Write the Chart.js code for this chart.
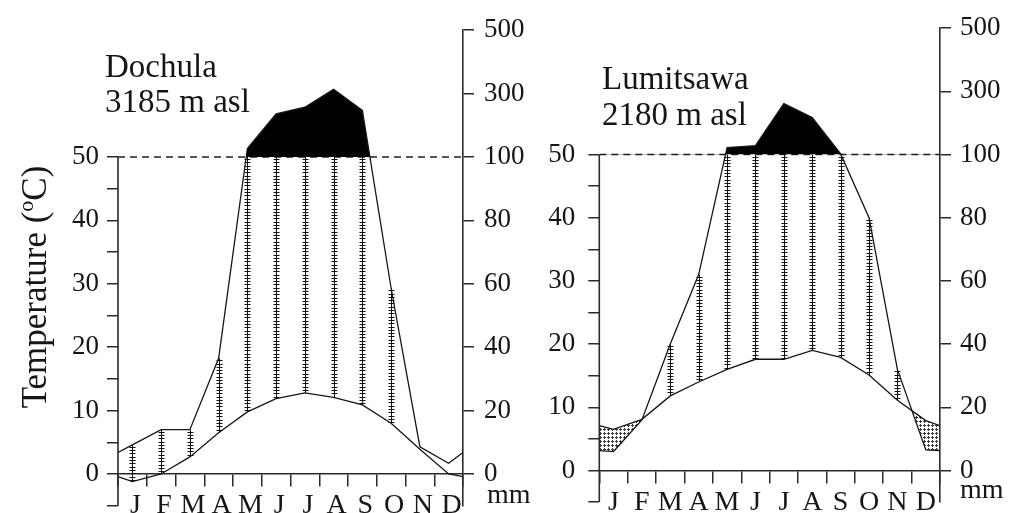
<!DOCTYPE html>
<html>
<head>
<meta charset="utf-8">
<script src="https://cdn.jsdelivr.net/npm/chart.js@4.4.1/dist/chart.umd.min.js"></script>
<style>
  html, body { margin: 0; padding: 0; background: #fff; overflow: hidden; }
  #wrap { position: relative; width: 1011px; height: 513px; }
  canvas { position: absolute; top: 0; }
  #dochula { left: 0; }
  #lumitsawa { left: 535px; }
</style>
</head>
<body>
<div id="wrap">
  <canvas id="dochula" width="535" height="513"></canvas>
  <canvas id="lumitsawa" width="476" height="513"></canvas>
</div>
<script>
// Month initials along the bottom axis
const months = ['J', 'F', 'M', 'A', 'M', 'J', 'J', 'A', 'S', 'O', 'N', 'D'];

// Dochula, 3185 m asl: mean monthly temperature (°C) and precipitation (mm)
const dochulaTemp   = [-1.2, 0.0, 2.7, 6.5, 9.8, 11.9, 12.8, 12.1, 10.9, 8.0, 3.9, 0.0];
const dochulaPrecip = [9.2, 14, 14, 36.5, 127, 236, 257, 314, 247, 58.6, 8.6, 3.4];
// values where December runs into January at both frame edges
const dochulaEdgeTemp = -0.4;
const dochulaEdgePrecip = 6.8;

// Lumitsawa, 2180 m asl
const lumitsawaTemp   = [6.5, 8.1, 11.8, 14.0, 16.0, 17.6, 17.6, 19.0, 17.9, 15.1, 11.1, 7.9];
const lumitsawaPrecip = [6, 16, 40, 62, 122, 128, 261, 217, 102, 80, 32, 6.5];
const lumitsawaEdgeTemp = 7.1;
const lumitsawaEdgePrecip = 6.3;

// Axis ticks
const tempTicks = [-5, 0, 5, 10, 15, 20, 25, 30, 35, 40, 45, 50];
const tempLabels = [0, 10, 20, 30, 40, 50];
const precipTicks = [0, 10, 20, 30, 40, 50, 60, 70, 80, 90, 100, 200, 300, 400, 500];
const precipLabels = [0, 20, 40, 60, 80, 100, 300, 500];

const serif = "'Liberation Serif', 'Times New Roman', serif";
const ink = '#161616';

// Walter–Lieth precipitation scale: 20 mm per 10 °C up to 100 mm, 100 mm per 5 °C above
function toScale(mm) { return mm <= 100 ? mm / 2 : 50 + (mm - 100) / 20; }
function fromScale(v) { return v <= 50 ? Math.round(v * 2) : Math.round(100 + (v - 50) * 20); }

// Stippled (small crosses) fill for the dry season
function crossPattern() {
  const c = document.createElement('canvas');
  c.width = 4; c.height = 4;
  const g = c.getContext('2d');
  g.fillStyle = '#3a3a3a';
  g.fillRect(1, 1, 1, 1);
  g.fillRect(0, 1, 1, 1); g.fillRect(2, 1, 1, 1);
  g.fillRect(1, 0, 1, 1); g.fillRect(1, 2, 1, 1);
  return g.createPattern(c, 'repeat');
}

const climatePlugin = {
  id: 'climate',
  // humid-season ladders between temperature and precipitation
  beforeDatasetsDraw(chart, args, o) {
    const ctx = chart.ctx, xs = chart.scales.x, ys = chart.scales.y;
    ctx.save();
    ctx.strokeStyle = '#111';
    ctx.lineWidth = 1;
    o.temp.forEach((t, i) => {
      const top = Math.min(toScale(o.precip[i]), 50);
      if (top - t < 2) return;
      const x = Math.round(xs.getPixelForValue(i + 0.5)) + 0.5;
      const y0 = ys.getPixelForValue(t), y1 = ys.getPixelForValue(top);
      ctx.beginPath();
      ctx.moveTo(x, y0); ctx.lineTo(x, y1);
      ctx.stroke();
      ctx.beginPath();
      for (let y = y1 + 2; y < y0 - 1; y += 3.3) {
        const yy = Math.round(y) + 0.5;
        ctx.moveTo(x - 3, yy); ctx.lineTo(x + 3, yy);
      }
      ctx.stroke();
    });
    ctx.restore();
  },
  afterDraw(chart, args, o) {
    const ctx = chart.ctx, ys = chart.scales.y, area = chart.chartArea;
    ctx.save();
    // temperature axis line, -5 to 50
    ctx.strokeStyle = '#2a2a2a';
    ctx.lineWidth = 1.6;
    ctx.beginPath();
    ctx.moveTo(area.left, ys.getPixelForValue(-5));
    ctx.lineTo(area.left, ys.getPixelForValue(50));
    ctx.stroke();

    ctx.fillStyle = ink;
    ctx.textBaseline = 'alphabetic';
    ctx.textAlign = 'left';
    // station name and altitude
    ctx.font = '33px ' + serif;
    o.station.forEach((line, k) => ctx.fillText(line, o.stationX, o.stationY + k * o.stationGap));
    // unit of the precipitation axis
    ctx.font = '28px ' + serif;
    ctx.fillText('mm', area.right + o.mmDx, ys.getPixelForValue(0) + o.mmDy);

    if (o.yTitle) {
      const big = '35px ' + serif, small = '22px ' + serif;
      const parts = [['Temperature (', big, 0], ['o', small, -13], ['C)', big, 0]];
      let w = 0;
      parts.forEach(p => { ctx.font = p[1]; w += ctx.measureText(p[0]).width; });
      ctx.translate(o.yTitle.x, o.yTitle.y);
      ctx.rotate(-Math.PI / 2);
      let x = -w / 2;
      parts.forEach(p => { ctx.font = p[1]; ctx.fillText(p[0], x, p[2]); x += ctx.measureText(p[0]).width; });
    }
    ctx.restore();
  }
};

function linePoints(values, edge, f) {
  return [{ x: 0, y: f(edge) }]
    .concat(values.map((v, i) => ({ x: i + 0.5, y: f(v) })))
    .concat([{ x: 12, y: f(edge) }]);
}

function climateChart(id, cfg) {
  const same = v => v;
  const font = size => ({ family: serif, size: size });
  return new Chart(document.getElementById(id), {
    type: 'line',
    data: {
      datasets: [
        {
          label: 'Precipitation (mm)',
          data: linePoints(cfg.precip, cfg.edgePrecip, toScale),
          borderColor: ink, borderWidth: 1.3, pointRadius: 0, tension: 0,
          fill: { target: { value: 50 }, above: '#000', below: 'rgba(0,0,0,0)' }
        },
        {
          label: 'Temperature (°C)',
          data: linePoints(cfg.temp, cfg.edgeTemp, same),
          borderColor: ink, borderWidth: 1.3, pointRadius: 0, tension: 0,
          fill: { target: 0, above: crossPattern(), below: 'rgba(0,0,0,0)' }
        },
        {
          label: '100 mm',
          data: [{ x: 0, y: 50 }, { x: 12, y: 50 }],
          borderColor: '#222', borderWidth: 1.5, borderDash: [7, 5],
          pointRadius: 0, fill: false
        }
      ]
    },
    options: {
      responsive: false,
      animation: false,
      events: [],
      layout: { padding: { left: 0, right: 0, top: cfg.padTop, bottom: cfg.padBottom } },
      plugins: {
        legend: { display: false },
        tooltip: { enabled: false },
        climate: {
          temp: cfg.temp, precip: cfg.precip,
          station: cfg.station, stationX: cfg.stationX, stationY: cfg.stationY, stationGap: cfg.stationGap,
          mmDx: cfg.mmDx, mmDy: cfg.mmDy, yTitle: cfg.yTitle
        }
      },
      scales: {
        x: {
          type: 'linear', min: 0, max: 12,
          position: { y: 0 },
          afterBuildTicks: s => { s.ticks = Array.from({ length: 25 }, (_, k) => ({ value: k / 2 })); },
          ticks: {
            autoSkip: false, maxRotation: 0, minRotation: 0,
            padding: 3, labelOffset: cfg.monthOffset,
            color: ink, font: font(28),
            callback: v => Number.isInteger(v) ? '' : months[Math.floor(v)]
          },
          grid: {
            drawOnChartArea: false, drawTicks: true, tickLength: 12, lineWidth: 1.5,
            color: c => (c.tick && Number.isInteger(c.tick.value)) ? '#2a2a2a' : 'rgba(0,0,0,0)'
          },
          border: { display: true, color: '#2a2a2a', width: 1.6 }
        },
        y: {
          type: 'linear', position: 'left', min: -5, max: 70,
          afterBuildTicks: s => { s.ticks = tempTicks.map(v => ({ value: v })); },
          afterFit: s => { s.width = cfg.leftWidth; s.paddingTop = 0; s.paddingBottom = 0; },
          ticks: {
            padding: cfg.leftPad, color: ink, font: font(27),
            callback: v => tempLabels.includes(v) ? String(v) : ''
          },
          grid: { drawOnChartArea: false, tickLength: 11, lineWidth: 1.5, color: '#2a2a2a' },
          border: { display: false }
        },
        y2: {
          type: 'linear', position: 'right', min: -5, max: 70,
          afterBuildTicks: s => { s.ticks = precipTicks.map(mm => ({ value: toScale(mm) })); },
          afterFit: s => { s.width = cfg.rightWidth; s.paddingTop = 0; s.paddingBottom = 0; },
          ticks: {
            padding: cfg.rightPad, color: ink, font: font(27),
            callback: v => precipLabels.includes(fromScale(v)) ? String(fromScale(v)) : ''
          },
          grid: { drawOnChartArea: false, tickLength: 11, lineWidth: 1.5, color: '#2a2a2a' },
          border: { display: true, color: '#2a2a2a', width: 1.6 }
        }
      }
    },
    plugins: [climatePlugin]
  });
}

climateChart('dochula', {
  temp: dochulaTemp, precip: dochulaPrecip,
  edgeTemp: dochulaEdgeTemp, edgePrecip: dochulaEdgePrecip,
  station: ['Dochula', '3185 m asl'], stationX: 105, stationY: 77, stationGap: 35,
  padTop: 30.2, padBottom: 7.3, leftWidth: 118, rightWidth: 72,
  leftPad: 8, rightPad: 10, monthOffset: 3, mmDx: 24, mmDy: 29,
  yTitle: { x: 46, y: 287 }
});

climateChart('lumitsawa', {
  temp: lumitsawaTemp, precip: lumitsawaPrecip,
  edgeTemp: lumitsawaEdgeTemp, edgePrecip: lumitsawaEdgePrecip,
  station: ['Lumitsawa', '2180 m asl'], stationX: 67, stationY: 89, stationGap: 36,
  padTop: 28.1, padBottom: 10.9, leftWidth: 64.3, rightWidth: 71,
  leftPad: 13, rightPad: 9, monthOffset: 0, mmDx: 20, mmDy: 27,
  yTitle: null
});
</script>
</body>
</html>
